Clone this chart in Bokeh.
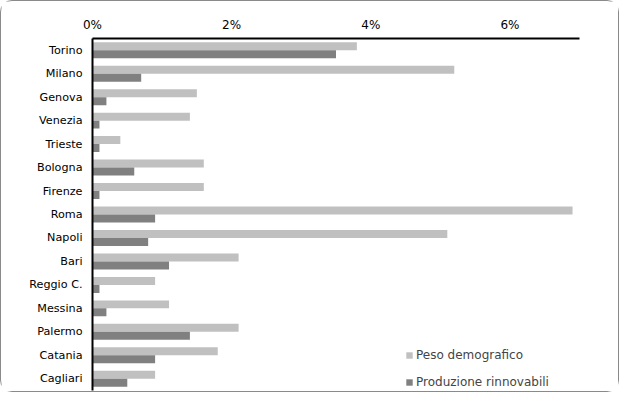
from bokeh.plotting import figure
from bokeh.models import FactorRange, Range1d, Legend, LegendItem, ColumnDataSource, FixedTicker, CustomJSTickFormatter
from bokeh.transform import dodge
from bokeh.embed import file_html
from bokeh.resources import INLINE

cities = ["Torino", "Milano", "Genova", "Venezia", "Trieste", "Bologna", "Firenze",
          "Roma", "Napoli", "Bari", "Reggio C.", "Messina", "Palermo", "Catania", "Cagliari"]
peso = [3.8, 5.2, 1.5, 1.4, 0.4, 1.6, 1.6, 6.9, 5.1, 2.1, 0.9, 1.1, 2.1, 1.8, 0.9]
rinnovabili = [3.5, 0.7, 0.2, 0.1, 0.1, 0.6, 0.1, 0.9, 0.8, 1.1, 0.1, 0.2, 1.4, 0.9, 0.5]
tick_values = [0, 2, 4, 6]
series_names = ["Peso demografico", "Produzione rinnovabili"]
colors = ["#C0C0C0", "#808080"]

src = ColumnDataSource(dict(city=cities, peso=peso, rin=rinnovabili))
yr = FactorRange(factors=cities[::-1], range_padding=0)

FONT = "DejaVu Sans"

p = figure(width=619, height=392, y_range=yr, x_range=Range1d(0, 7),
           x_axis_location="above", output_backend="svg", toolbar_location=None,
           min_border_left=91, min_border_right=41, min_border_top=37, min_border_bottom=3)
p.styles = {"border": "1px solid #8a8a8a", "border-radius": "12px", "box-sizing": "border-box"}

r1 = p.hbar(y=dodge("city", 0.17, range=yr), right="peso", left=0, height=0.34,
            source=src, color=colors[0], line_color=None)
r2 = p.hbar(y=dodge("city", -0.17, range=yr), right="rin", left=0, height=0.34,
            source=src, color=colors[1], line_color=None)

p.xgrid.visible = False
p.ygrid.visible = False
p.outline_line_color = None

xa = p.xaxis[0]
xa.ticker = FixedTicker(ticks=tick_values)
xa.formatter = CustomJSTickFormatter(code="return tick + '%';")
xa.axis_line_color = "black"
xa.axis_line_width = 2
xa.major_tick_line_color = None
xa.minor_tick_line_color = None
xa.major_label_text_font = FONT
xa.major_label_text_font_size = "12px"
xa.major_label_text_color = "#000000"
xa.major_label_standoff = 1

ya = p.yaxis[0]
ya.axis_line_color = "black"
ya.axis_line_width = 2
ya.major_tick_line_color = None
ya.minor_tick_line_color = None
ya.major_label_text_font = FONT
ya.major_label_text_font_size = "11.2px"
ya.major_label_text_color = "#000000"
ya.major_label_standoff = 4

legend = Legend(items=[LegendItem(label=series_names[0], renderers=[r1]),
                       LegendItem(label=series_names[1], renderers=[r2])],
                location=(313, 1), orientation="vertical")
legend.border_line_color = None
legend.background_fill_alpha = 0
legend.glyph_width = 8
legend.glyph_height = 8
legend.label_text_font = FONT
legend.label_text_font_size = "12px"
legend.label_height = 15
legend.label_standoff = 3
legend.spacing = 12
legend.padding = 4
legend.margin = 0
p.add_layout(legend, "center")

open("out.html", "w").write(file_html(p, INLINE))
